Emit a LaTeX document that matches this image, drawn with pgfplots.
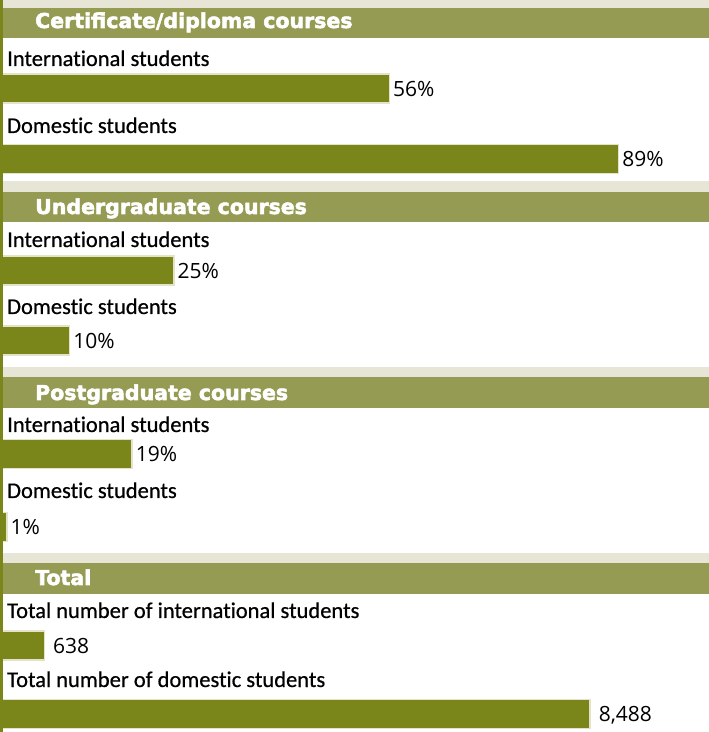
\documentclass[border=0pt]{standalone}
\usepackage{fontspec}
\setmainfont{Carlito}[Ligatures=NoCommon, FakeBold=0.6]
\newfontfamily\headfont{DejaVu Sans}[BoldFeatures={FakeBold=2.6}]
\newfontfamily\numfont{Open Sans}
\usepackage{pgfplots}
\pgfplotsset{compat=1.18}

\definecolor{barfill}{HTML}{7A851A}
\definecolor{baredge}{HTML}{E4E2C8}
\definecolor{headbg}{HTML}{959B53}
\definecolor{bandbg}{HTML}{E7E5D6}

\pgfplotsset{
  panel/.style={
    at={(0,0)}, anchor=south west,
    scale only axis, width=709pt, height=732pt,
    xmin=0, ymin=0, ymax=732, y dir=reverse,
    axis lines=none, clip=false,
    xbar, bar width=29pt, bar shift=0pt,
    point meta=explicit symbolic,
    nodes near coords,
  },
  bars/.style={fill=barfill, draw=baredge, line width=1.5pt},
}

\newcommand{\lab}{\fontsize{22.5}{24}\selectfont}
\newcommand{\hd}{\headfont\bfseries\fontsize{20.5}{22}\selectfont}
\newcommand{\num}{\numfont\fontsize{21}{22}\selectfont}

\begin{document}
\begin{tikzpicture}
\useasboundingbox (0,0) rectangle (709pt,732pt);

% bands and headers, pixel coordinates measured from the top
\begin{scope}[x=1pt,y=-1pt,yshift=732pt]
  \fill[bandbg] (0,0) rectangle (709,8);
  \fill[headbg] (0,8) rectangle (709,38);
  \fill[bandbg] (0,181) rectangle (709,192);
  \fill[headbg] (0,192) rectangle (709,222);
  \fill[bandbg] (0,367) rectangle (709,377);
  \fill[headbg] (0,377) rectangle (709,408);
  \fill[bandbg] (0,553) rectangle (709,563);
  \fill[headbg] (0,563) rectangle (709,594);
\end{scope}

% percentages
\begin{axis}[panel, xmax=102,
  nodes near coords style={anchor=west, inner sep=0pt, xshift=3pt,
    text depth=0pt, font=\num}]
\addplot[bars] coordinates {
  (56,88.5) [56\%]
  (89,159) [89\%]
  (25,270.5) [25\%]
  (10,340.5) [10\%]
  (19,454) [19\%]
  (1,527) [1\%]
};
\end{axis}

% totals
\begin{axis}[panel, xmax=10200,
  nodes near coords style={anchor=west, inner sep=0pt, xshift=8pt,
    text depth=0pt, font=\num}]
\addplot[bars] coordinates {
  (638,645.5) [638]
  (8488,714) [{8,488}]
};
\end{axis}

\begin{scope}[x=1pt,y=-1pt,yshift=732pt]
  \tikzset{hd/.style={anchor=base west, inner sep=0pt, text=white, font=\hd},
           lb/.style={anchor=base west, inner sep=0pt, font=\lab}}
  \node[hd] at (35,28) {Certificate/diploma courses};
  \node[hd] at (35,214) {Undergraduate courses};
  \node[hd] at (35,400) {Postgraduate courses};
  \node[hd] at (35,585) {Total};

  \node[lb] at (7,66) {International students};
  \node[lb] at (7,133) {Domestic students};
  \node[lb] at (7,247) {International students};
  \node[lb] at (7,314) {Domestic students};
  \node[lb] at (7,432) {International students};
  \node[lb] at (7,498) {Domestic students};
  \node[lb] at (7,618) {Total number of international students};
  \node[lb] at (7,687) {Total number of domestic students};

  \fill[barfill] (0,0) rectangle (3,732);
\end{scope}
\end{tikzpicture}
\end{document}
